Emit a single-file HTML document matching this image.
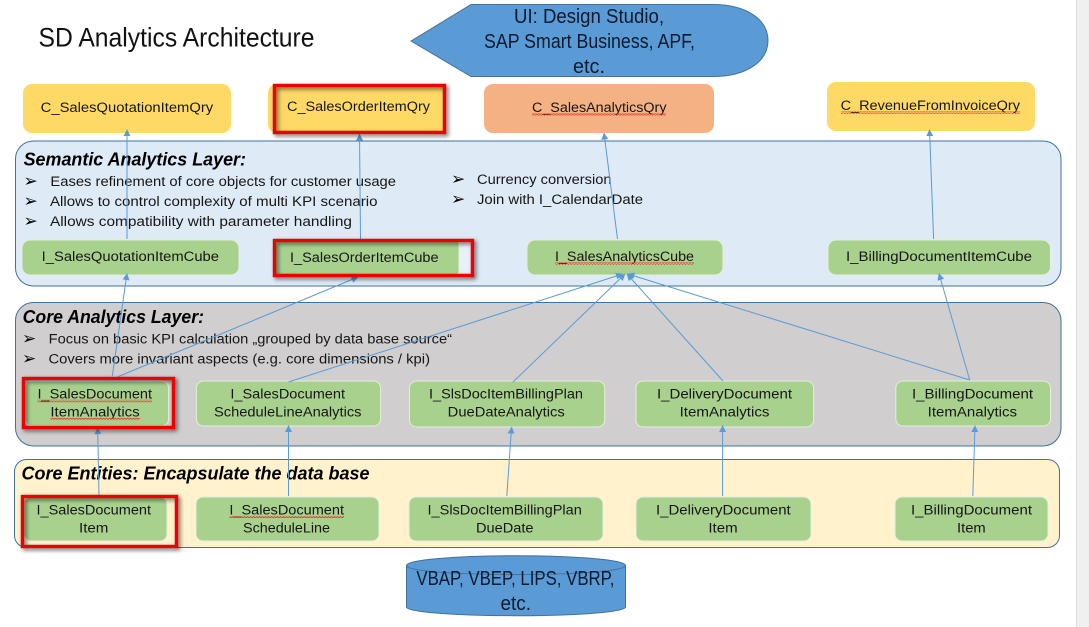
<!DOCTYPE html>
<html>
<head>
<meta charset="utf-8">
<style>
html,body{margin:0;padding:0;background:#fff;width:1089px;height:627px;overflow:hidden}
svg{display:block}
text{font-family:"Liberation Sans",sans-serif;font-size:14.2px;fill:#161616}
.t{font-size:18.5px;font-weight:bold;font-style:italic;fill:#000}
.b{font-family:"DejaVu Sans",sans-serif;font-size:17px;fill:#000}
.big{font-size:20px;fill:#0b1a2e}
.g{fill:#a9d18e;stroke:#e4efdc;stroke-width:1}
.a{fill:none;stroke:#5b9bd5;stroke-width:1}
.red{fill:none;stroke:#ee0000;stroke-width:3.4;filter:drop-shadow(2px 2px 2px rgba(0,0,0,.6))}
</style>
</head>
<body>
<svg width="1089" height="627" viewBox="0 0 1089 627" xmlns="http://www.w3.org/2000/svg">
<defs>
<marker id="m" viewBox="0 0 8 8" refX="7.5" refY="4" markerWidth="7" markerHeight="7" markerUnits="userSpaceOnUse" orient="auto"><path d="M0,0 L8,4 L0,8 Z" fill="#5b9bd5"/></marker>
<pattern id="w" width="3" height="2.4" patternUnits="userSpaceOnUse"><path d="M0,1.8 L1.5,0.6 L3,1.8" fill="none" stroke="#e0352a" stroke-width=".9"/></pattern>
</defs>
<rect x="1077" y="0" width="12" height="627" fill="#f0f0f0"/>
<rect x="1076" y="0" width="1" height="627" fill="#dcdcdc"/>

<text x="38.5" y="46.7" style="font-size:27px;fill:#111" textLength="276" lengthAdjust="spacingAndGlyphs">SD Analytics Architecture</text>

<path d="M411,41 L471,4.5 H713 C747,4.5 768,20 768,40.5 C768,61 747,76.5 713,76.5 H471 Z" fill="#5b9bd5" stroke="#41719c" stroke-width="1"/>
<text class="big" x="514" y="23" textLength="150" lengthAdjust="spacingAndGlyphs">UI: Design Studio,</text>
<text class="big" x="484" y="48" textLength="211" lengthAdjust="spacingAndGlyphs">SAP Smart Business, APF,</text>
<text class="big" x="573" y="73" textLength="32" lengthAdjust="spacingAndGlyphs">etc.</text>

<rect x="23" y="84" width="208" height="49" rx="9" fill="#ffd966"/>
<rect x="268" y="84" width="178" height="49" rx="9" fill="#ffd966"/>
<rect x="484" y="84" width="230" height="49" rx="9" fill="#f4b183"/>
<rect x="827" y="82" width="208" height="49" rx="9" fill="#ffd966"/>
<text x="40.7" y="112" textLength="172.5" lengthAdjust="spacingAndGlyphs">C_SalesQuotationItemQry</text>
<text x="287" y="111" textLength="143" lengthAdjust="spacingAndGlyphs">C_SalesOrderItemQry</text>
<text x="532" y="112" textLength="134.5" lengthAdjust="spacingAndGlyphs">C_SalesAnalyticsQry</text>
<text x="840.6" y="110" textLength="179.4" lengthAdjust="spacingAndGlyphs">C_RevenueFromInvoiceQry</text>
<rect x="532" y="113.5" width="134" height="2.4" fill="url(#w)"/>
<rect x="841" y="111.5" width="179" height="2.4" fill="url(#w)"/>

<rect x="15.5" y="141" width="1045.5" height="145" rx="18" fill="#deeaf6" stroke="#41719c" stroke-width="1"/>
<text class="t" x="23.6" y="165.7" textLength="222.4" lengthAdjust="spacingAndGlyphs">Semantic Analytics Layer:</text>
<text class="b" x="23.5" y="186.5">➢</text>
<text class="b" x="23.5" y="206.5">➢</text>
<text class="b" x="23.5" y="226.5">➢</text>
<text x="50.4" y="186" textLength="345.6" lengthAdjust="spacingAndGlyphs">Eases refinement of core objects for customer usage</text>
<text x="50" y="206" textLength="327.5" lengthAdjust="spacingAndGlyphs">Allows to control complexity of multi KPI scenario</text>
<text x="50" y="226" textLength="302" lengthAdjust="spacingAndGlyphs">Allows compatibility with parameter handling</text>
<text class="b" x="451" y="184.5">➢</text>
<text class="b" x="451" y="204.5">➢</text>
<text x="477" y="184" textLength="134.6" lengthAdjust="spacingAndGlyphs">Currency conversion</text>
<text x="477" y="204" textLength="166" lengthAdjust="spacingAndGlyphs">Join with I_CalendarDate</text>

<rect class="g" x="22" y="240" width="217" height="35" rx="8"/>
<rect x="273" y="240" width="200" height="35" fill="#e8f0f8"/>
<rect class="g" x="273" y="240" width="186" height="35" rx="4"/>
<rect class="g" x="527" y="240" width="196" height="35" rx="8"/>
<rect class="g" x="828" y="240" width="222.5" height="35" rx="8"/>
<text x="41.7" y="261" textLength="177.3" lengthAdjust="spacingAndGlyphs">I_SalesQuotationItemCube</text>
<text x="290" y="262" textLength="148.6" lengthAdjust="spacingAndGlyphs">I_SalesOrderItemCube</text>
<text x="555" y="261" textLength="139" lengthAdjust="spacingAndGlyphs">I_SalesAnalyticsCube</text>
<text x="846" y="261" textLength="186" lengthAdjust="spacingAndGlyphs">I_BillingDocumentItemCube</text>
<rect x="555" y="262.5" width="139" height="2.4" fill="url(#w)"/>

<rect x="15.5" y="302.5" width="1045.5" height="143.5" rx="18" fill="#d0cece" stroke="#41719c" stroke-width="1"/>
<text class="t" x="22.6" y="323" textLength="181.4" lengthAdjust="spacingAndGlyphs">Core Analytics Layer:</text>
<text class="b" x="22" y="343.8">➢</text>
<text class="b" x="22" y="363.8">➢</text>
<text x="48.7" y="343.3" textLength="403.3" lengthAdjust="spacingAndGlyphs">Focus on basic KPI calculation „grouped by data base source“</text>
<text x="48.5" y="363.3" textLength="381.5" lengthAdjust="spacingAndGlyphs">Covers more invariant aspects (e.g. core dimensions / kpi)</text>

<rect class="g" x="25" y="381" width="143.6" height="45" rx="7"/>
<rect class="g" x="196.4" y="381" width="184.2" height="45" rx="7"/>
<rect class="g" x="409.5" y="381" width="195.2" height="46" rx="7"/>
<rect class="g" x="636" y="381" width="177.6" height="46" rx="7"/>
<rect class="g" x="895.8" y="381" width="154.7" height="45" rx="7"/>
<text x="37.5" y="398.3" textLength="114.5" lengthAdjust="spacingAndGlyphs">I_SalesDocument</text>
<text x="50.4" y="416.3" textLength="89.3" lengthAdjust="spacingAndGlyphs">ItemAnalytics</text>
<rect x="37.5" y="399.8" width="114.5" height="2.4" fill="url(#w)"/>
<rect x="50.4" y="417.8" width="89.3" height="2.4" fill="url(#w)"/>
<text x="230.4" y="398.3" textLength="114.6" lengthAdjust="spacingAndGlyphs">I_SalesDocument</text>
<text x="214" y="416.3" textLength="147.5" lengthAdjust="spacingAndGlyphs">ScheduleLineAnalytics</text>
<text x="429" y="398.3" textLength="154" lengthAdjust="spacingAndGlyphs">I_SlsDocItemBillingPlan</text>
<text x="447.7" y="416.3" textLength="117.1" lengthAdjust="spacingAndGlyphs">DueDateAnalytics</text>
<text x="657" y="398.3" textLength="135" lengthAdjust="spacingAndGlyphs">I_DeliveryDocument</text>
<text x="679.6" y="416.3" textLength="89.9" lengthAdjust="spacingAndGlyphs">ItemAnalytics</text>
<text x="912" y="398.3" textLength="121" lengthAdjust="spacingAndGlyphs">I_BillingDocument</text>
<text x="927.7" y="416.3" textLength="89.3" lengthAdjust="spacingAndGlyphs">ItemAnalytics</text>

<rect x="14.5" y="459.5" width="1045" height="88" rx="12" fill="#fff2cc" stroke="#41719c" stroke-width="1"/>
<text class="t" x="21.5" y="479.7" textLength="348" lengthAdjust="spacingAndGlyphs">Core Entities: Encapsulate the data base</text>

<rect class="g" x="24" y="497" width="143" height="44" rx="7"/>
<rect class="g" x="196" y="497" width="183" height="44" rx="7"/>
<rect class="g" x="409" y="497" width="194" height="44" rx="7"/>
<rect class="g" x="636" y="497" width="175" height="44" rx="7"/>
<rect class="g" x="895" y="497" width="153" height="44" rx="7"/>
<text x="36.5" y="514.3" textLength="114.5" lengthAdjust="spacingAndGlyphs">I_SalesDocument</text>
<text x="79" y="532.3" textLength="29.4" lengthAdjust="spacingAndGlyphs">Item</text>
<text x="229.4" y="514.3" textLength="114.6" lengthAdjust="spacingAndGlyphs">I_SalesDocument</text>
<text x="243" y="532.3" textLength="87" lengthAdjust="spacingAndGlyphs">ScheduleLine</text>
<rect x="229.4" y="515.8" width="114.6" height="2.4" fill="url(#w)"/>
<text x="427.5" y="514.3" textLength="154.3" lengthAdjust="spacingAndGlyphs">I_SlsDocItemBillingPlan</text>
<text x="476" y="532.3" textLength="57.5" lengthAdjust="spacingAndGlyphs">DueDate</text>
<text x="656" y="514.3" textLength="134.7" lengthAdjust="spacingAndGlyphs">I_DeliveryDocument</text>
<text x="708.4" y="532.3" textLength="29.2" lengthAdjust="spacingAndGlyphs">Item</text>
<text x="911" y="514.3" textLength="121" lengthAdjust="spacingAndGlyphs">I_BillingDocument</text>
<text x="957" y="532.3" textLength="28.7" lengthAdjust="spacingAndGlyphs">Item</text>

<path d="M406.5,565.5 C406.5,560 455,555.7 516,555.7 C577,555.7 625.5,560 625.5,565.5 V607 C625.5,612 577,615.7 516,615.7 C455,615.7 406.5,612 406.5,607 Z" fill="#5b9bd5" stroke="#41719c" stroke-width="1"/>
<path d="M406.5,565.5 C406.5,571 455,574.5 516,574.5 C577,574.5 625.5,571 625.5,565.5" fill="none" stroke="#41719c" stroke-width="1"/>
<text class="big" x="416.4" y="585" textLength="198" lengthAdjust="spacingAndGlyphs">VBAP, VBEP, LIPS, VBRP,</text>
<text class="big" x="500.5" y="610" textLength="30.5" lengthAdjust="spacingAndGlyphs">etc.</text>

<line class="a" x1="127" y1="239" x2="127" y2="129.5" marker-end="url(#m)"/>
<line class="a" x1="360.5" y1="239" x2="359.5" y2="134" marker-end="url(#m)"/>
<line class="a" x1="617.5" y1="239" x2="604" y2="133" marker-end="url(#m)"/>
<line class="a" x1="933.6" y1="239" x2="929.5" y2="129.5" marker-end="url(#m)"/>
<line class="a" x1="112.3" y1="376" x2="127" y2="273.5" marker-end="url(#m)"/>
<line class="a" x1="118" y1="376.7" x2="358" y2="277" marker-end="url(#m)"/>
<line class="a" x1="288.5" y1="382" x2="622.5" y2="274" marker-end="url(#m)"/>
<line class="a" x1="512.7" y1="382.3" x2="625" y2="274" marker-end="url(#m)"/>
<line class="a" x1="723" y1="381" x2="627" y2="274" marker-end="url(#m)"/>
<line class="a" x1="969.7" y1="380" x2="628" y2="274" marker-end="url(#m)"/>
<line class="a" x1="969.7" y1="380" x2="939" y2="273.5" marker-end="url(#m)"/>
<line class="a" x1="99" y1="495" x2="97.7" y2="427.7" marker-end="url(#m)"/>
<line class="a" x1="288.5" y1="496" x2="288.5" y2="425.5" marker-end="url(#m)"/>
<line class="a" x1="506.8" y1="496" x2="511.6" y2="427" marker-end="url(#m)"/>
<line class="a" x1="722.6" y1="496" x2="722.6" y2="425.5" marker-end="url(#m)"/>
<line class="a" x1="972.8" y1="496" x2="975" y2="425.5" marker-end="url(#m)"/>

<rect class="red" x="274.5" y="85.5" width="170" height="47"/>
<rect class="red" x="274.5" y="240.5" width="198" height="35"/>
<rect class="red" x="23.5" y="378.5" width="150" height="49"/>
<rect class="red" x="22.5" y="496.5" width="154" height="50"/>
</svg>
</body>
</html>
